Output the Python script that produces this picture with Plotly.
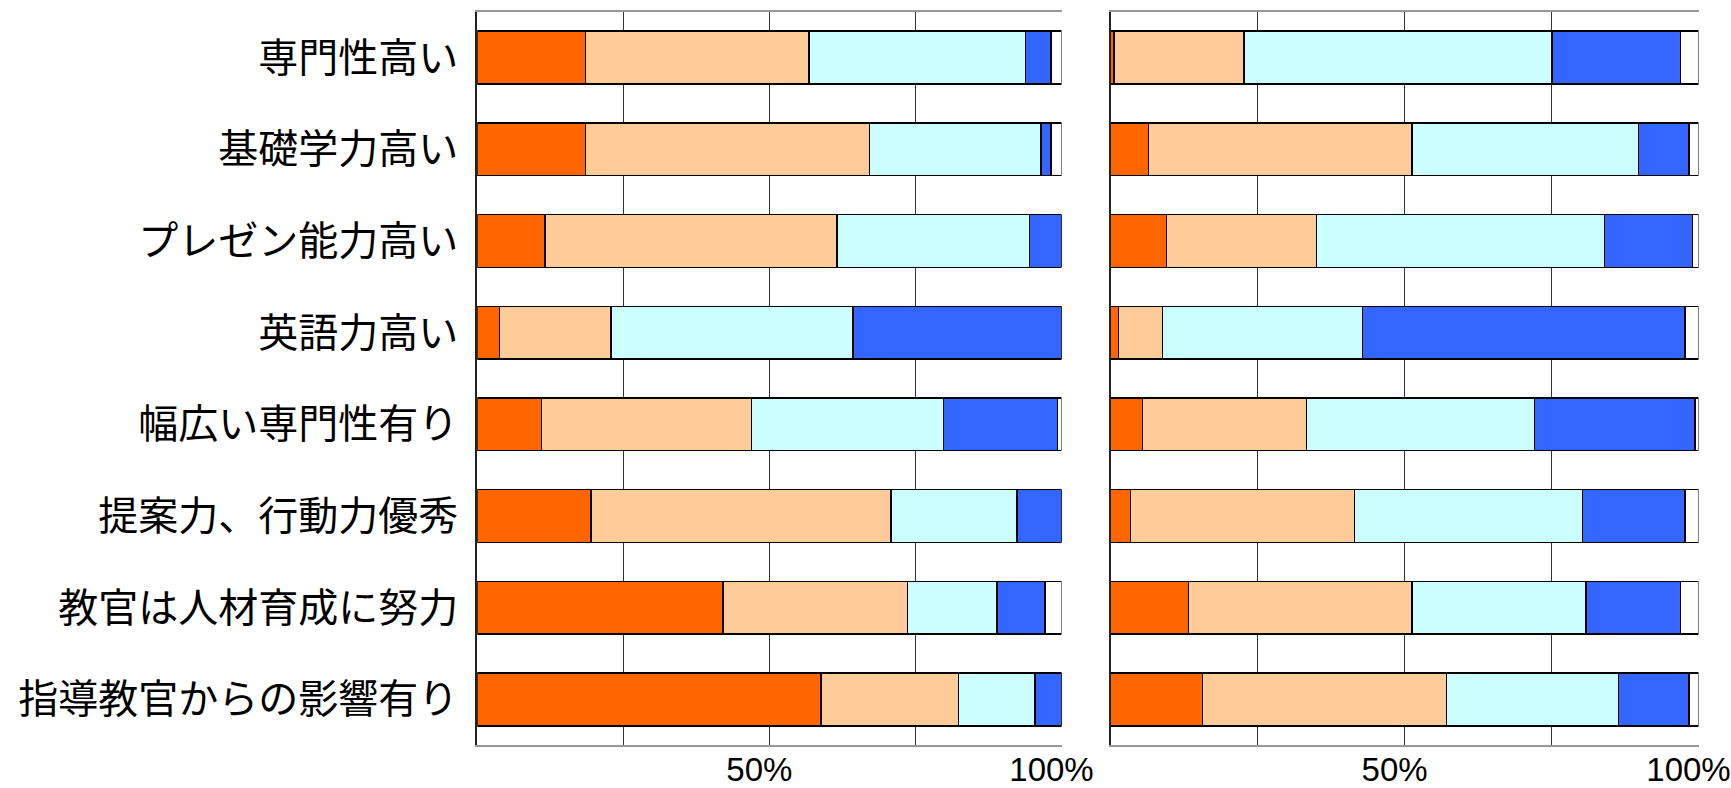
import plotly.graph_objects as go

categories = ["専門性高い", "基礎学力高い", "プレゼン能力高い", "英語力高い",
              "幅広い専門性有り", "提案力、行動力優秀", "教官は人材育成に努力", "指導教官からの影響有り"]

# left panel (percent shares, 5 segments per row)
left_s1 = [18.5, 18.5, 11.6, 3.8, 11.0, 19.5, 42.1, 58.8]
left_s2 = [38.3, 48.6, 50.0, 19.1, 35.9, 51.3, 31.5, 23.6]
left_s3 = [37.0, 29.4, 32.9, 41.4, 32.9, 21.6, 15.4, 13.1]
left_s4 = [4.4, 1.7, 5.5, 35.7, 19.5, 7.6, 8.2, 4.5]
left_s5 = [1.8, 1.8, 0.0, 0.0, 0.7, 0.0, 2.8, 0.0]

# right panel
right_s1 = [0.6, 6.4, 9.5, 1.3, 5.4, 3.4, 13.2, 15.6]
right_s2 = [22.1, 44.9, 25.5, 7.5, 27.9, 38.1, 38.1, 41.5]
right_s3 = [52.4, 38.5, 49.0, 34.0, 38.8, 38.8, 29.6, 29.3]
right_s4 = [21.8, 8.6, 15.0, 54.9, 27.3, 17.4, 16.0, 12.0]
right_s5 = [3.1, 1.6, 1.0, 2.3, 0.6, 2.3, 3.1, 1.6]

colors = ["#FF6600", "#FFCC99", "#CCFFFF", "#3366FF", "#FFFFFF"]
tick_vals = [25, 50, 75, 100]
tick_text = ["", "50%", "", "100%"]

W, H = 1731, 788
fig = go.Figure()

left = [left_s1, left_s2, left_s3, left_s4, left_s5]
right = [right_s1, right_s2, right_s3, right_s4, right_s5]
for i, vals in enumerate(left):
    fig.add_trace(go.Bar(y=categories, x=vals, orientation="h", xaxis="x", yaxis="y",
                         marker=dict(color=colors[i], line=dict(color="#000000", width=1.5)),
                         showlegend=False, hoverinfo="x+y"))
for i, vals in enumerate(right):
    fig.add_trace(go.Bar(y=categories, x=vals, orientation="h", xaxis="x2", yaxis="y2",
                         marker=dict(color=colors[i], line=dict(color="#000000", width=1.5)),
                         showlegend=False, hoverinfo="x+y"))

ydom = [1 - 745.3 / H, 1 - 11.7 / H]
xdom1 = [477.3 / W, 1061.5 / W]
xdom2 = [1110.7 / W, 1698.5 / W]

tickfont = dict(family="Liberation Sans, Arial, sans-serif", size=33, color="#000000")
xcommon = dict(range=[0, 100], tickvals=tick_vals, ticktext=tick_text, showgrid=True,
               gridcolor="#333333", gridwidth=1, zeroline=False, showline=True,
               linecolor="#999999", linewidth=2, mirror=True, ticks="", tickfont=tickfont,
               automargin=False, fixedrange=True, ticklabelshift=-10, ticklabelstandoff=-6)
ycommon = dict(autorange="reversed", domain=ydom, showgrid=False, zeroline=False,
               showline=True, linecolor="#222222", linewidth=2, ticks="", automargin=False,
               fixedrange=True)

fig.update_layout(
    width=W, height=H, autosize=False,
    margin=dict(l=0, r=0, t=0, b=0),
    paper_bgcolor="#FFFFFF", plot_bgcolor="#FFFFFF",
    barmode="stack", bargap=0.425,
    xaxis=dict(domain=xdom1, anchor="y", **xcommon),
    xaxis2=dict(domain=xdom2, anchor="y2", **xcommon),
    yaxis=dict(anchor="x", tickfont=dict(family="Noto Sans CJK JP, sans-serif", size=40, color="#000000"),
               ticklabelstandoff=9, **ycommon),
    yaxis2=dict(anchor="x2", showticklabels=False, **ycommon),
)

fig.write_html("out.html", config={"displayModeBar": False},
               post_script="document.body.style.margin='0';document.body.style.overflow='hidden';")
